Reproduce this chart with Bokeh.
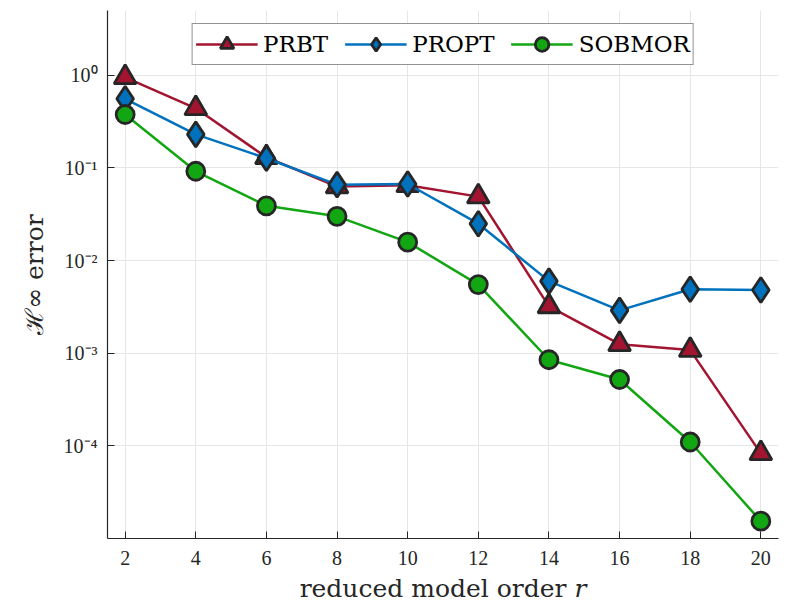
from bokeh.plotting import figure
from bokeh.models import FixedTicker, CustomJSTickFormatter, Legend, LegendItem, Range1d
from bokeh.embed import file_html
from bokeh.resources import INLINE

r = [2, 4, 6, 8, 10, 12, 14, 16, 18, 20]
prbt = [0.95, 0.44, 0.13, 0.063, 0.065, 0.049, 0.0032, 0.00125, 0.00108, 8.3e-5]
propt = [0.557, 0.23, 0.127, 0.066, 0.067, 0.025, 0.0060, 0.0029, 0.0049, 0.0048]
sobmor = [0.377, 0.092, 0.039, 0.030, 0.0158, 0.0055, 0.00085, 0.00052, 0.00011, 1.54e-5]
x_ticks = [2, 4, 6, 8, 10, 12, 14, 16, 18, 20]
y_ticks = [1e-4, 1e-3, 1e-2, 1e-1, 1]

FONT = "Liberation Serif"
FONT2 = "DejaVu Serif"
EDGE = "#262626"

p = figure(width=789, height=611, y_axis_type="log", output_backend="svg",
           toolbar_location=None, x_range=Range1d(1.5, 20.5), y_range=Range1d(1e-5, 5),
           min_border_left=107, min_border_right=11, min_border_top=10, min_border_bottom=73)
p.outline_line_color = None
p.background_fill_color = "white"
p.border_fill_color = "white"

series = [("PRBT", prbt, "#A2142F", "triangle", 22),
          ("PROPT", propt, "#0072BD", "diamond", 25),
          ("SOBMOR", sobmor, "#12A612", "circle", 18)]
items = []
for name, ys, col, mk, sz in series:
    ln = p.line(r, ys, line_color=col, line_width=2.5)
    sc = p.scatter(r, ys, marker=mk, size=sz, fill_color=col, line_color=EDGE, line_width=2.8)
    items.append(LegendItem(label=name, renderers=[ln, sc]))

for ax in (p.xaxis[0], p.yaxis[0]):
    ax.axis_line_color = EDGE
    ax.axis_line_width = 1.2
    ax.major_tick_line_color = EDGE
    ax.major_tick_in = 7
    ax.major_tick_out = 0
    ax.minor_tick_line_color = None
    ax.major_label_text_font = FONT
    ax.major_label_text_font_size = "20px"
    ax.major_label_text_color = EDGE
    ax.axis_label_text_font = FONT2
    ax.axis_label_text_font_size = "25px"
    ax.axis_label_text_font_style = "normal"
    ax.axis_label_text_color = EDGE

p.xaxis.ticker = FixedTicker(ticks=x_ticks)
p.yaxis.ticker = FixedTicker(ticks=y_ticks)
p.yaxis.formatter = CustomJSTickFormatter(code="""
const sup = {'0':'\u2070','1':'\u00b9','2':'\u00b2','3':'\u00b3','4':'\u2074','5':'\u2075','6':'\u2076','7':'\u2077','8':'\u2078','9':'\u2079','-':'\u207b'};
const e = String(Math.round(Math.log10(tick)));
let s = '10';
for (const c of e) s += sup[c];
return s;
""")
p.xaxis.major_label_standoff = 12
p.yaxis.major_label_standoff = 10
p.xaxis.axis_label_standoff = 6
p.yaxis.axis_label_standoff = 12
p.xaxis.axis_label = "reduced model order \U0001D45F"
p.yaxis.axis_label = "\u210B\u221E error"

p.xgrid.grid_line_color = "#e6e6e6"
p.ygrid.grid_line_color = "#e6e6e6"
p.xgrid.grid_line_width = 1
p.ygrid.grid_line_width = 1

legend = Legend(items=items, orientation="horizontal", location="top_center",
                label_text_font=FONT2, label_text_font_size="23px", label_text_color="black",
                glyph_width=62, glyph_height=34, border_line_color=EDGE, border_line_width=1.8,
                background_fill_alpha=1, margin=13, padding=3, spacing=16, label_standoff=6,
                label_height=34)
p.add_layout(legend)

open("out.html", "w").write(file_html(p, INLINE))
